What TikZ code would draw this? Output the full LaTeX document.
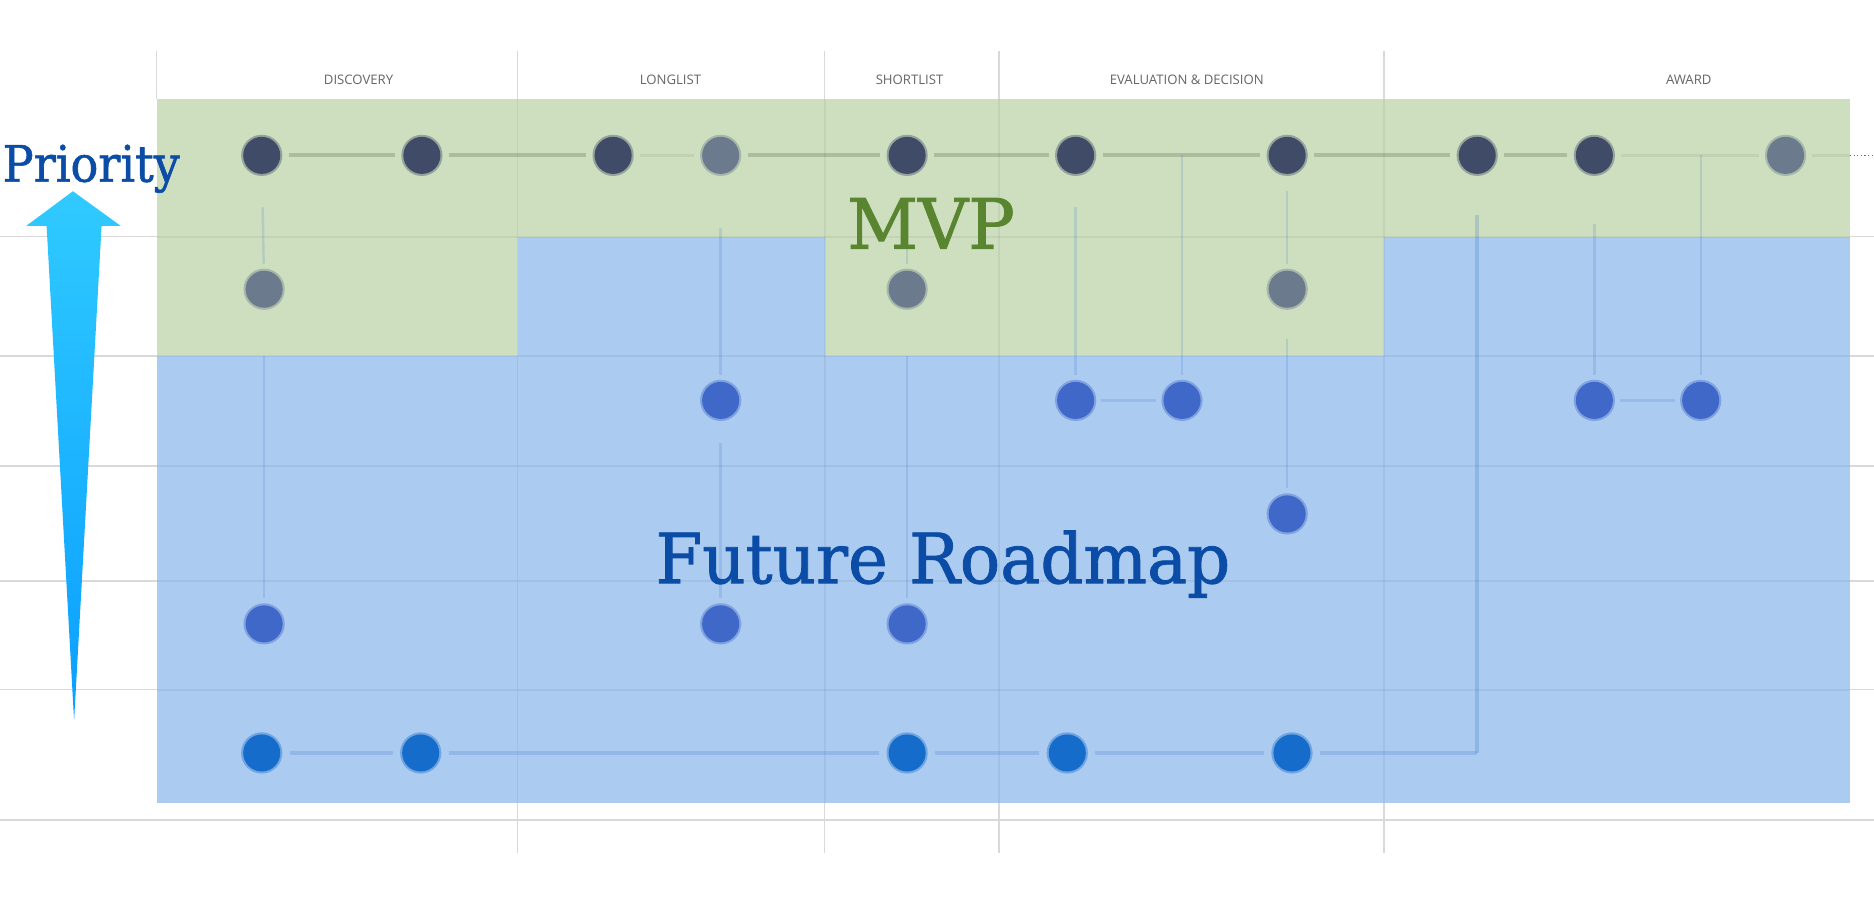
\documentclass[tikz,border=0pt]{standalone}
\usepackage{fontspec}
\newfontfamily\hdrfont{Open Sans}
\newfontfamily\typefont[FakeBold=1.2]{DejaVu Serif}
\usetikzlibrary{calc}
\definecolor{gridc}{HTML}{D9D9D9}
\definecolor{mvpbg}{HTML}{CEDFBF}
\definecolor{futbg}{HTML}{ABCBF1}
\definecolor{darkn}{HTML}{404B68}
\definecolor{grayn}{HTML}{6B7B8D}
\definecolor{bluen}{HTML}{4068C8}
\definecolor{botn}{HTML}{156CCB}
\definecolor{titleblue}{HTML}{0B4DA6}
\definecolor{mvpgreen}{HTML}{5A8530}
\definecolor{hdrgray}{HTML}{666666}
\definecolor{linkc}{HTML}{2060C0}
\definecolor{toplink}{HTML}{304030}
\definecolor{arrtop}{HTML}{30CAFF}
\definecolor{arrbot}{HTML}{0A9EFF}
\definecolor{dotc}{HTML}{5A6AA0}
\tikzset{
  gridline/.style={draw=gridc, line width=1.2pt},
  faintgrid/.style={draw=black, draw opacity=0.05, line width=1.5pt},
  rnode/.style={circle, minimum size=31pt, inner sep=0pt, fill=#1, draw=#1, draw opacity=0.4, line width=3.5pt, outer sep=0pt},
  hdr/.style={font=\hdrfont\fontsize{11}{13}\selectfont, text=hdrgray, anchor=center},
  toplinkst/.style={draw=toplink, draw opacity=0.22, line width=3.5pt, shorten <=7pt, shorten >=7pt},
  faintlink/.style={draw=toplink, draw opacity=0.08, line width=2.5pt, shorten <=7pt, shorten >=7pt},
  vlink/.style={draw=linkc, draw opacity=0.15, line width=2pt, shorten <=6pt, shorten >=6pt},
  hlink/.style={draw=linkc, draw opacity=0.17, line width=3pt, shorten <=8pt, shorten >=8pt},
}
\begin{document}
\begin{tikzpicture}[x=1pt, y=-1pt]
\useasboundingbox (0,0) rectangle (1568,754);
\fill[white] (0,0) rectangle (1568,754);
% grid lines
\foreach \yy in {198,298,390,486,577,686} \draw[gridline] (0,\yy) -- (1568,\yy);
\draw[gridline] (131,43) -- (131,83);
\foreach \xx in {433,690,836,1158} \draw[gridline] (\xx,43) -- (\xx,714);
% regions
\fill[mvpbg] (131,83) rectangle (1548,198);
\fill[mvpbg] (131,198) rectangle (433,298);
\fill[mvpbg] (690,198) rectangle (1158,298);
\fill[futbg] (433,198) rectangle (690,298);
\fill[futbg] (1158,198) rectangle (1548,298);
\fill[futbg] (131,298) rectangle (1548,672);
% faint grid over regions
\foreach \yy in {198,298,390,486,577} \draw[faintgrid] (131,\yy) -- (1548,\yy);
\foreach \xx in {433,690,836,1158} \draw[faintgrid] (\xx,83) -- (\xx,672);
% headers
\node[hdr] (h1) at (300,67) {DISCOVERY};
\node[hdr] (h2) at (561,67) {LONGLIST};
\node[hdr] (h3) at (761,67) {SHORTLIST};
\node[hdr] (h4) at (993,67) {EVALUATION \& DECISION};
\node[hdr] (h5) at (1413,67) {AWARD};
% nodes
\node[rnode=darkn] (t1) at (219,130) {};
\node[rnode=darkn] (t2) at (353,130) {};
\node[rnode=darkn] (t3) at (513,130) {};
\node[rnode=grayn] (t4) at (603,130) {};
\node[rnode=darkn] (t5) at (759,130) {};
\node[rnode=darkn] (t6) at (900,130) {};
\node[rnode=darkn] (t7) at (1077,130) {};
\node[rnode=darkn] (t8) at (1236,130) {};
\node[rnode=darkn] (t9) at (1334,130) {};
\node[rnode=grayn] (t10) at (1494,130) {};
\node[rnode=grayn] (s1) at (221,242) {};
\node[rnode=grayn] (s2) at (759,242) {};
\node[rnode=grayn] (s3) at (1077,242) {};
\node[rnode=bluen] (r1) at (603,335) {};
\node[rnode=bluen] (r2) at (900,335) {};
\node[rnode=bluen] (r3) at (989,335) {};
\node[rnode=bluen] (r4) at (1334,335) {};
\node[rnode=bluen] (r5) at (1423,335) {};
\node[rnode=bluen] (q1) at (1077,430) {};
\node[rnode=bluen] (p1) at (221,522) {};
\node[rnode=bluen] (p2) at (603,522) {};
\node[rnode=bluen] (p3) at (759,522) {};
\node[rnode=botn] (b1) at (219,630) {};
\node[rnode=botn] (b2) at (352,630) {};
\node[rnode=botn] (b3) at (759,630) {};
\node[rnode=botn] (b4) at (893,630) {};
\node[rnode=botn] (b5) at (1081,630) {};
\coordinate (j1) at (989,130);
\coordinate (j2) at (1423,130);
\coordinate (c1) at (1236,630);
\coordinate (e1) at (1548,130);
\coordinate (e2) at (1568,130);
% top row connectors
\draw[toplinkst] (t1) -- (t2);
\draw[toplinkst] (t2) -- (t3);
\draw[faintlink] (t3) -- (t4);
\draw[toplinkst] (t4) -- (t5);
\draw[toplinkst] (t5) -- (t6);
\draw[toplinkst] (t6) -- (t7);
\draw[toplinkst] (t7) -- (t8);
\draw[toplinkst] (t8) -- (t9);
\draw[faintlink] (t9) -- (t10);
\draw[faintlink, shorten >=0pt] (t10) -- (e1);
\draw[dotc, dotted, line width=1pt] (e1) -- (e2);
% vertical connectors
\draw[vlink, shorten <=28pt] (t1) -- (s1);
\draw[vlink, shorten <=40pt] (s1) -- (p1);
\draw[vlink, shorten <=45pt] (t4) -- (r1);
\draw[vlink, shorten <=20pt] (r1) -- (p2);
\draw[vlink, shorten <=45pt] (t5) -- (s2);
\draw[vlink, shorten <=40pt] (s2) -- (p3);
\draw[vlink, shorten <=28pt] (t6) -- (r2);
\draw[vlink, shorten <=0pt] (j1) -- (r3);
\draw[vlink, shorten <=14pt] (t7) -- (s3);
\draw[vlink, shorten <=26pt] (s3) -- (q1);
\draw[vlink, shorten <=42pt] (t9) -- (r4);
\draw[vlink, shorten <=0pt] (j2) -- (r5);
\draw[vlink] (r2) -- (r3);
\draw[vlink] (r4) -- (r5);
% bottom row connectors
\draw[hlink] (b1) -- (b2);
\draw[hlink] (b2) -- (b3);
\draw[hlink] (b3) -- (b4);
\draw[hlink] (b4) -- (b5);
\draw[hlink, shorten >=0pt] (b5) -- (c1);
\draw[hlink, shorten >=0pt, shorten <=34pt, draw opacity=0.2] (t8) -- (c1);
% priority arrow
\shade[top color=arrtop, bottom color=arrbot] (61,160) -- (101,189) -- (85,189) -- (62,603) -- (39,189) -- (22,189) -- cycle;
% texts
\node[font=\typefont\fontsize{42}{48}\selectfont, text=titleblue, anchor=base west, xscale=0.92, inner sep=0pt] (prio) at (2,152) {Priority};
\node[font=\typefont\fontsize{58}{66}\selectfont, text=mvpgreen, anchor=base, inner sep=0pt] (mvp) at (779,208) {MVP};
\node[font=\typefont\fontsize{58}{66}\selectfont, text=titleblue, anchor=base, xscale=0.97, inner sep=0pt] (fut) at (789,488) {Future Roadmap};
\end{tikzpicture}
\end{document}
